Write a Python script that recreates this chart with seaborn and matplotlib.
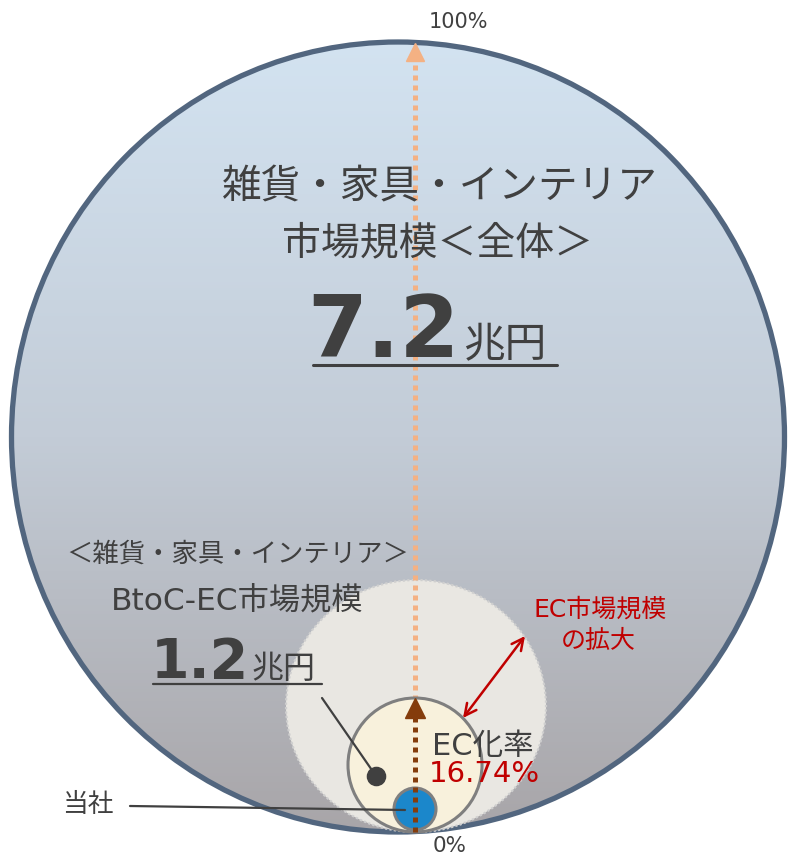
import matplotlib
matplotlib.use("Agg")
import matplotlib.pyplot as plt
import numpy as np
import seaborn as sns
from matplotlib.patches import Ellipse, Circle
from matplotlib.colors import LinearSegmentedColormap

# values shown in the diagram
total_market = "7.2"          # 兆円
btoc_market = "1.2"           # 兆円
ec_rate = 16.74               # %
scale_labels = ["0%", "100%"]
title_lines = ["雑貨・家具・インテリア", "市場規模＜全体＞"]
btoc_lines = ["＜雑貨・家具・インテリア＞", "BtoC-EC市場規模"]

sns.set_theme(style="white")
plt.rcParams['font.family'] = ['DejaVu Sans', 'Noto Sans CJK JP']

fig = plt.figure(figsize=(7.93, 8.55), dpi=100)
ax = fig.add_axes([0, 0, 1, 1])
ax.set_xlim(0, 793)
ax.set_ylim(855, 0)
ax.axis("off")

dark = "#404040"
red = "#c00000"

# big circle with vertical gradient
big = Ellipse((398, 437), 773, 790, facecolor="none", edgecolor="#52667f", lw=3.8, zorder=3)
ax.add_patch(big)
cmap = LinearSegmentedColormap.from_list("g", ["#d3e3f1", "#c3ccd7", "#a8a5a8"])
grad = np.linspace(0, 1, 256).reshape(-1, 1)
im = ax.imshow(grad, cmap=cmap, extent=(10, 787, 835, 40), aspect="auto", zorder=1)
clip = Ellipse((398, 437), 773, 790, transform=ax.transData, facecolor="none", edgecolor="none")
ax.add_patch(clip)
im.set_clip_path(clip)

# BtoC-EC circle (dotted)
ax.add_patch(Ellipse((416, 706), 260, 252, facecolor="#e9e7e2", edgecolor="#cfcfcf",
                     lw=1.6, linestyle=(0, (1, 1)), zorder=4))
# EC rate circle
ax.add_patch(Circle((415, 765), 67, facecolor="#f8f1dc", edgecolor="#7f7f7f", lw=2.2, zorder=5))
# company circle
ax.add_patch(Circle((415, 809), 21, facecolor="#1b87cb", edgecolor="#7f7f7f", lw=2.2, zorder=6))

# orange dotted arrow 0% -> 100%
ax.plot([415, 415], [700, 60], color="#f4b183", lw=3.6, linestyle=(0, (1, 1)),
        dash_capstyle="butt", zorder=4.5)
ax.plot([415], [52], marker="^", ms=13, color="#f4b183", mec="#f4b183", zorder=4.5)

# brown dotted arrow
ax.plot([415, 415], [832, 716], color="#843c0c", lw=3.6, linestyle=(0, (1, 1)),
        dash_capstyle="butt", zorder=7)
ax.plot([415], [708], marker="^", ms=14, color="#843c0c", mec="#843c0c", zorder=7)

# scale labels
ax.text(458, 22, scale_labels[1], ha="center", va="center", fontsize=15, color=dark)
ax.text(450, 846, scale_labels[0], ha="center", va="center", fontsize=15.5, color=dark)

# total market text
ax.text(440, 187, title_lines[0], ha="center", va="center", fontsize=28.5, color=dark, zorder=8)
ax.text(437, 243, title_lines[1], ha="center", va="center", fontsize=28, color=dark, zorder=8)
ax.text(460, 357, total_market, ha="right", va="baseline", fontsize=62, fontweight="bold",
        color=dark, zorder=8)
ax.text(463, 357, "兆円", ha="left", va="baseline", fontsize=30, color=dark, zorder=8)
ax.plot([313, 557], [365, 365], color=dark, lw=2.2, zorder=8)

# BtoC-EC text
ax.text(238, 555, btoc_lines[0], ha="center", va="center", fontsize=19, color=dark, zorder=8)
ax.text(237, 601, btoc_lines[1], ha="center", va="center", fontsize=22.5, color=dark, zorder=8)
ax.text(249, 678, btoc_market, ha="right", va="baseline", fontsize=40, fontweight="bold",
        color=dark, zorder=8)
ax.text(252, 678, "兆円", ha="left", va="baseline", fontsize=23, color=dark, zorder=8)
ax.plot([153, 322], [684, 684], color=dark, lw=1.6, zorder=8)

# leader to BtoC circle
ax.plot([322, 376], [698, 776], color=dark, lw=1.6, zorder=8)
sns.scatterplot(x=[376], y=[776], s=170, color=dark, edgecolor=dark, ax=ax, zorder=9, legend=False)

# 当社 leader
ax.text(88, 805, "当社", ha="center", va="center", fontsize=18.5, color=dark)
ax.plot([130, 405], [806, 810], color=dark, lw=1.6, zorder=8)

# EC rate
ax.text(432, 746, "EC化率", ha="left", va="center", fontsize=22, color=dark, zorder=8)
ax.text(429, 774, f"{ec_rate:.2f}%", ha="left", va="center", fontsize=21, color=red, zorder=8)

# expansion arrow
ax.annotate("", xy=(525, 636), xytext=(463, 718),
            arrowprops=dict(arrowstyle="<->,head_length=0.7,head_width=0.35", color=red,
                            lw=1.8, shrinkA=0, shrinkB=0), zorder=8)
ax.text(600, 610, "EC市場規模", ha="center", va="center", fontsize=18, color=red, zorder=8)
ax.text(598, 641, "の拡大", ha="center", va="center", fontsize=18, color=red, zorder=8)

fig.savefig("out.png", dpi=100)
